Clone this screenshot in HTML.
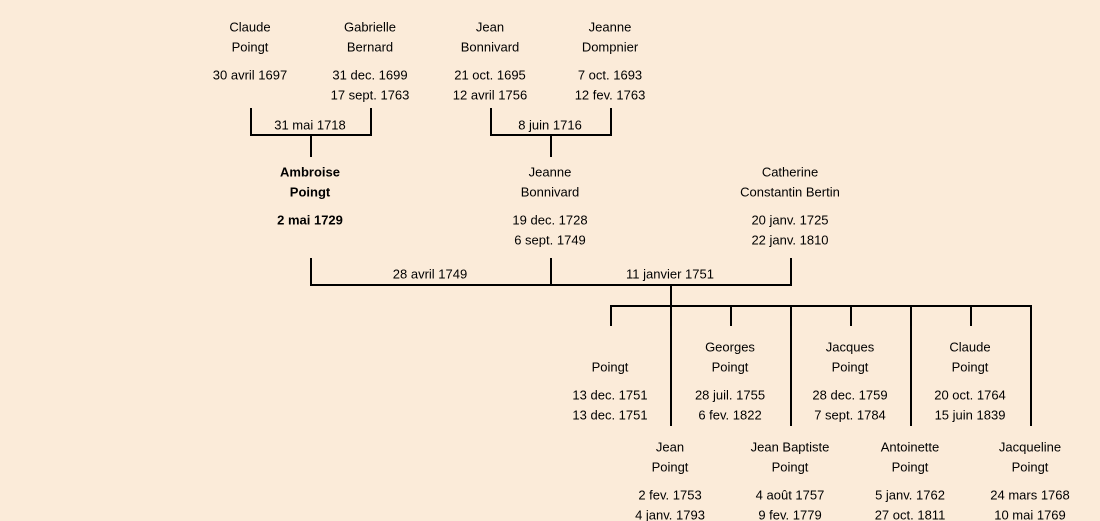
<!DOCTYPE html>
<html><head><meta charset="utf-8"><style>
html,body{margin:0;padding:0;background:#fbebd9;}
svg{display:block}
text{font-family:"Liberation Sans",sans-serif;font-size:13px;fill:#000;text-anchor:middle;dominant-baseline:middle}
.b{font-weight:bold}
</style></head><body>
<svg width="1100" height="521" viewBox="0 0 1100 521">
<rect width="1100" height="521" fill="#fbebd9"/>
<g stroke="#000" stroke-width="2" fill="none">
<path d="M251 108V135H371V108M311 135V157"/>
<path d="M491 108V135H611V108M551 135V157"/>
<path d="M311 258V285H791V258M551 258V285M671 285V306"/>
<path d="M611 326V306H1031V426M731 306V326M851 306V326M971 306V326M671 306V426M791 306V426M911 306V426"/>
</g>
<g transform="translate(0,1)">
<text x="250" y="27">Claude</text><text x="250" y="47">Poingt</text><text x="250" y="75">30 avril 1697</text>
<text x="370" y="27">Gabrielle</text><text x="370" y="47">Bernard</text><text x="370" y="75">31 dec. 1699</text><text x="370" y="95">17 sept. 1763</text>
<text x="490" y="27">Jean</text><text x="490" y="47">Bonnivard</text><text x="490" y="75">21 oct. 1695</text><text x="490" y="95">12 avril 1756</text>
<text x="610" y="27">Jeanne</text><text x="610" y="47">Dompnier</text><text x="610" y="75">7 oct. 1693</text><text x="610" y="95">12 fev. 1763</text>
<text x="310" y="125">31 mai 1718</text><text x="550" y="125">8 juin 1716</text>
<text class="b" x="310" y="172">Ambroise</text><text class="b" x="310" y="192">Poingt</text><text class="b" x="310" y="220">2 mai 1729</text>
<text x="550" y="172">Jeanne</text><text x="550" y="192">Bonnivard</text><text x="550" y="220">19 dec. 1728</text><text x="550" y="240">6 sept. 1749</text>
<text x="790" y="172">Catherine</text><text x="790" y="192">Constantin Bertin</text><text x="790" y="220">20 janv. 1725</text><text x="790" y="240">22 janv. 1810</text>
<text x="430" y="274">28 avril 1749</text><text x="670" y="274">11 janvier 1751</text>
<text x="610" y="367">Poingt</text><text x="610" y="395">13 dec. 1751</text><text x="610" y="415">13 dec. 1751</text>
<text x="730" y="347">Georges</text><text x="730" y="367">Poingt</text><text x="730" y="395">28 juil. 1755</text><text x="730" y="415">6 fev. 1822</text>
<text x="850" y="347">Jacques</text><text x="850" y="367">Poingt</text><text x="850" y="395">28 dec. 1759</text><text x="850" y="415">7 sept. 1784</text>
<text x="970" y="347">Claude</text><text x="970" y="367">Poingt</text><text x="970" y="395">20 oct. 1764</text><text x="970" y="415">15 juin 1839</text>
<text x="670" y="447">Jean</text><text x="670" y="467">Poingt</text><text x="670" y="495">2 fev. 1753</text><text x="670" y="515">4 janv. 1793</text>
<text x="790" y="447">Jean Baptiste</text><text x="790" y="467">Poingt</text><text x="790" y="495">4 août 1757</text><text x="790" y="515">9 fev. 1779</text>
<text x="910" y="447">Antoinette</text><text x="910" y="467">Poingt</text><text x="910" y="495">5 janv. 1762</text><text x="910" y="515">27 oct. 1811</text>
<text x="1030" y="447">Jacqueline</text><text x="1030" y="467">Poingt</text><text x="1030" y="495">24 mars 1768</text><text x="1030" y="515">10 mai 1769</text>
</g>
</svg>
</body></html>
